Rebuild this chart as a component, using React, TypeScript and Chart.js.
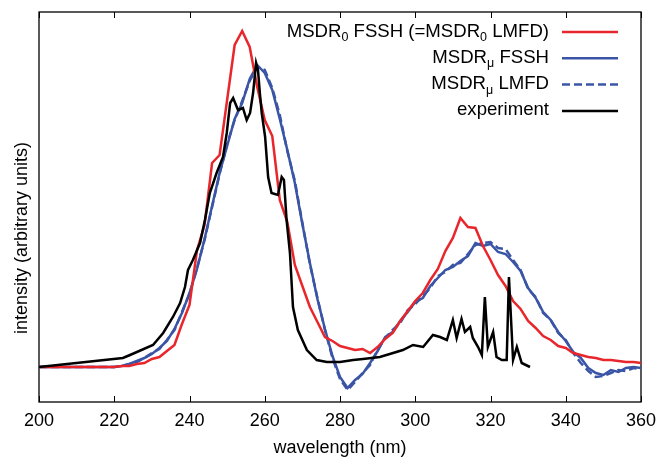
import React, { useEffect, useRef } from "react";
import { Chart, registerables } from "chart.js";

Chart.register(...registerables);

// ---- data (intensity in arbitrary units) ----
const wavelengths = [
  200, 202, 204, 206, 208, 210, 212, 214, 216, 218,
  220, 222, 224, 226, 228, 230, 232, 234, 236, 238,
  240, 242, 244, 246, 248, 250, 252, 254, 256, 258,
  260, 262, 264, 266, 268, 270, 272, 274, 276, 278,
  280, 282, 284, 286, 288, 290, 292, 294, 296, 298,
  300, 302, 304, 306, 308, 310, 312, 314, 316, 318,
  320, 322, 324, 326, 328, 330, 332, 334, 336, 338,
  340, 342, 344, 346, 348, 350, 352, 354, 356, 358,
  360,
];

const msdr0Fssh = [
  0, 0, 0, 0, 0, 0, 0, 0, 0, 0,
  0, 1, 1, 3, 4, 8, 10, 16, 22, 43,
  62, 117, 142, 204, 212, 267, 322, 336, 320, 280,
  247, 231, 167, 145, 102, 81, 60, 45, 30, 26,
  21, 19, 17, 18, 14, 20, 28, 34, 46, 56,
  66, 74, 87, 98, 116, 129, 149, 140, 139, 121,
  107, 92, 81, 66, 58, 46, 39, 31, 27, 21,
  19, 14, 12, 10, 9, 7, 7, 6, 5, 5,
  4,
];

const msdrMuFssh = [
  0, 0, 0, 0, 0, 0, 0, 0, 0, 0,
  0, 1, 3, 6, 9, 13, 19, 26, 38, 54,
  74, 98, 128, 161, 194, 221, 248, 264, 288, 302,
  294, 277, 248, 217, 184, 143, 104, 68, 38, 11,
  -10, -21, -13, -7, 4, 16, 30, 35, 46, 55,
  65, 69, 81, 89, 97, 100, 106, 111, 124, 121,
  123, 115, 113, 105, 96, 79, 69, 55, 47, 35,
  26, 15, 9, -1, -6, -8, -3, -5, -1, 0,
  -1,
];

const msdrMuLmfd = [
  0, 0, 0, 0, 0, 0, 0, 0, 0, 0,
  0, 1, 3, 5, 9, 14, 18, 27, 37, 55,
  73, 99, 127, 160, 193, 223, 247, 266, 286, 300,
  297, 279, 252, 216, 186, 144, 103, 69, 37, 9,
  -12, -23, -15, -6, 2, 17, 29, 37, 44, 57,
  63, 71, 79, 91, 95, 102, 104, 113, 122, 124,
  125, 119, 118, 107, 97, 78, 70, 54, 47, 34,
  27, 14, 4, -4, -10, -9, -6, -3, -4, -1,
  -2,
];

const expWavelengths = [
  200, 222.3, 224.2, 230.3, 233, 235.6, 237.5, 238.8, 239.6, 240.9,
  242.8, 244.1, 245.4, 247.2, 248.9, 249.9, 250.8, 251.6, 252.9, 254.2,
  255.2, 256.1, 256.9, 257.7, 258.2, 258.7, 259.2, 260.1, 260.9, 261.8,
  263.5, 264.5, 265.1, 265.4, 265.8, 266.7, 267.5, 268.8, 271.2, 273.8,
  276.5, 280, 283.5, 286.1, 290.6, 294.1, 296.7, 299.4, 302.1, 304.7,
  306.6, 308.4, 310, 311, 312.3, 313.2, 314.6, 315.3, 316.7, 317.7,
  318.5, 319.3, 320.7, 321.6, 323, 324.3, 324.9, 326, 327, 328.3,
  330.5,
];

const expIntensity = [
  0, 9, 12, 22, 34, 50, 64, 80, 97, 107,
  124, 147, 174, 194, 210, 234, 264, 269, 257, 259,
  247, 254, 274, 304, 297, 274, 254, 230, 190, 174,
  172, 190, 187, 170, 147, 114, 60, 37, 17, 7,
  5, 5, 7, 8, 10, 14, 17, 22, 20, 32,
  30, 27, 47, 29, 48, 35, 40, 29, 20, 12,
  70, 20, 35, 10, 7, 7, 90, 7, 20, 4,
  0,
];

const xTickValues = [200, 220, 240, 260, 280, 300, 320, 340, 360];

const seriesNames = [
  "MSDR0 FSSH (=MSDR0 LMFD)",
  "MSDRμ FSSH",
  "MSDRμ LMFD",
  "experiment",
];

const yAxisTitle = "intensity (arbitrary units)";

// legend text pieces: [text, isSubscript]
const legendParts: [string, boolean][][] = [
  [["MSDR", false], ["0", true], [" FSSH (=MSDR", false], ["0", true], [" LMFD)", false]],
  [["MSDR", false], ["μ", true], [" FSSH", false]],
  [["MSDR", false], ["μ", true], [" LMFD", false]],
  [["experiment", false]],
];

const RED = "#e8262c";
const BLUE = "#3a55a6";
const BLACK = "#000000";
const FONT = "'Liberation Sans', Arial, Helvetica, sans-serif";

const framePlugin = {
  id: "frame",
  beforeDatasetsDraw(chart: any) {
    const { ctx, chartArea, scales } = chart;
    const { left, right, top, bottom } = chartArea;
    const x = scales.x;
    ctx.save();
    ctx.strokeStyle = "#000";
    ctx.lineWidth = 1.3;
    ctx.strokeRect(left, top, right - left, bottom - top);
    ctx.lineWidth = 1;
    x.ticks.forEach((t: any) => {
      const px = Math.round(x.getPixelForValue(t.value)) + 0.5;
      ctx.beginPath();
      ctx.moveTo(px, bottom);
      ctx.lineTo(px, bottom - 6);
      ctx.moveTo(px, top);
      ctx.lineTo(px, top + 6);
      ctx.stroke();
    });
    // y-axis title
    ctx.save();
    ctx.translate(22, (top + bottom) / 2 + 31);
    ctx.rotate(-Math.PI / 2);
    ctx.font = `18px ${FONT}`;
    ctx.fillStyle = "#000";
    ctx.textAlign = "center";
    ctx.textBaseline = "middle";
    ctx.fillText(yAxisTitle, 0, 0);
    ctx.restore();
    ctx.restore();
  },
};

const legendPlugin = {
  id: "customLegend",
  afterDraw(chart: any) {
    const { ctx, chartArea } = chart;
    const { right, top } = chartArea;
    const textRight = right - 92;
    const lineStart = right - 79;
    const lineEnd = right - 23;
    const mainFont = `18.6px ${FONT}`;
    const subFont = `12.5px ${FONT}`;
    ctx.save();
    legendParts.forEach((parts, i) => {
      const ds = chart.data.datasets[i];
      const rowY = top + 20 + i * 26.3;
      let width = 0;
      parts.forEach(([txt, sub]) => {
        ctx.font = sub ? subFont : mainFont;
        width += ctx.measureText(txt).width;
      });
      let xPos = textRight - width;
      ctx.fillStyle = "#000";
      ctx.textBaseline = "alphabetic";
      ctx.textAlign = "left";
      parts.forEach(([txt, sub]) => {
        ctx.font = sub ? subFont : mainFont;
        ctx.fillText(txt, xPos, rowY + (sub ? 9 : 4.5));
        xPos += ctx.measureText(txt).width;
      });
      ctx.strokeStyle = ds.borderColor;
      ctx.lineWidth = ds.borderWidth;
      ctx.setLineDash(ds.borderDash || []);
      ctx.beginPath();
      ctx.moveTo(lineStart, rowY);
      ctx.lineTo(lineEnd, rowY);
      ctx.stroke();
      ctx.setLineDash([]);
    });
    ctx.restore();
  },
};

export default function App() {
  const canvasRef = useRef<HTMLCanvasElement | null>(null);

  useEffect(() => {
    if (!canvasRef.current) return;
    const sim = (vals: number[]) => wavelengths.map((w, i) => ({ x: w, y: vals[i] }));
    const chart = new Chart(canvasRef.current, {
      type: "line",
      data: {
        datasets: [
          {
            label: seriesNames[0],
            data: sim(msdr0Fssh),
            borderColor: RED,
            borderWidth: 2.5,
            pointRadius: 0,
            order: 1,
          },
          {
            label: seriesNames[1],
            data: sim(msdrMuFssh),
            borderColor: BLUE,
            borderWidth: 2.5,
            pointRadius: 0,
            order: 3,
          },
          {
            label: seriesNames[2],
            data: sim(msdrMuLmfd),
            borderColor: BLUE,
            borderWidth: 2.5,
            borderDash: [8, 4],
            pointRadius: 0,
            order: 2,
          },
          {
            label: seriesNames[3],
            data: expWavelengths.map((w, i) => ({ x: w, y: expIntensity[i] })),
            borderColor: BLACK,
            borderWidth: 2.5,
            pointRadius: 0,
            order: 0,
          },
        ],
      },
      options: {
        animation: false,
        responsive: false,
        devicePixelRatio: 1,
        parsing: false as any,
        layout: { padding: { top: 12, right: 19, left: 0, bottom: 0 } },
        plugins: {
          legend: { display: false },
          tooltip: { enabled: false },
        },
        scales: {
          x: {
            type: "linear",
            min: 200,
            max: 360,
            afterBuildTicks: (scale: any) => {
              scale.ticks = xTickValues.map((v) => ({ value: v }));
            },
            afterFit: (scale: any) => {
              scale.height = 57;
              scale.paddingLeft = 0;
              scale.paddingRight = 0;
            },
            grid: { display: false, drawTicks: false },
            border: { display: false },
            ticks: {
              padding: 8,
              color: "#000",
              font: { family: FONT, size: 18 },
              maxRotation: 0,
            },
            title: {
              display: true,
              text: "wavelength (nm)",
              color: "#000",
              font: { family: FONT, size: 18 },
              padding: { top: 0, bottom: 0 },
            },
          },
          y: {
            type: "linear",
            min: -35,
            max: 355,
            afterFit: (scale: any) => {
              scale.width = 39;
            },
            grid: { display: false, drawTicks: false },
            border: { display: false },
            ticks: { display: false },
            title: { display: false },
          },
        },
      },
      plugins: [framePlugin, legendPlugin],
    });
    return () => chart.destroy();
  }, []);

  return (
    <div style={{ position: "fixed", left: 0, top: 0, width: 660, height: 459, background: "#fff" }}>
      <canvas ref={canvasRef} width={660} height={459} />
    </div>
  );
}
